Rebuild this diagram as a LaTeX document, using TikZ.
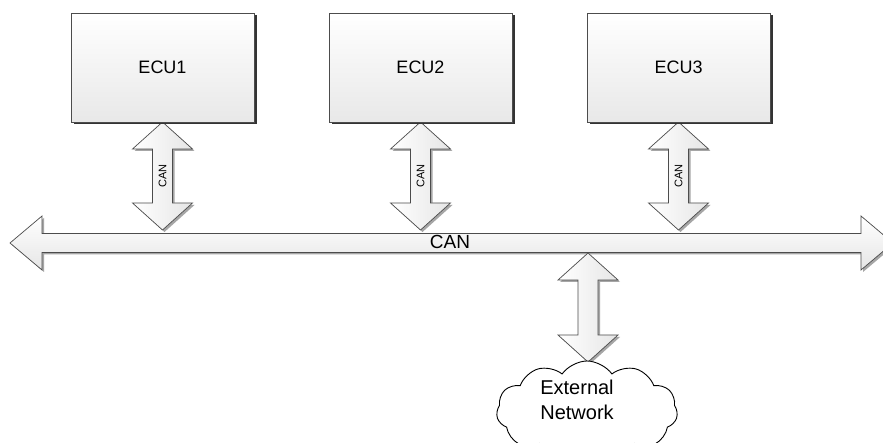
\documentclass[tikz,border=0pt]{standalone}
\usepackage{fontspec}
\setmainfont{Liberation Sans}
\usetikzlibrary{shadows,shapes.symbols}

\tikzset{
  unit/.style={draw=black!70, line width=0.8pt, top color=white, bottom color=black!9,
    minimum width=183pt, minimum height=109pt, inner sep=0pt,
    font=\fontsize{18}{20}\selectfont,
    drop shadow={shadow xshift=2.5pt, shadow yshift=-2.5pt, fill=black!80, opacity=1}},
  linkarrow/.style={draw=black!70, line width=0.7pt, left color=white, right color=black!10,
    drop shadow={shadow xshift=2pt, shadow yshift=-2pt, fill=black!35, opacity=1}},
  smalllabel/.style={rotate=90, inner sep=0pt, font=\fontsize{11}{12}\selectfont},
  buslabel/.style={inner sep=0pt, font=\fontsize{19}{21}\selectfont},
  netcloud/.style={cloud, draw=black, line width=0.9pt, fill=white, cloud puffs=11,
    cloud puff arc=110, aspect=1.9, minimum width=181pt, minimum height=100pt},
  nettext/.style={align=center, inner sep=0pt, font=\fontsize{20}{25}\selectfont}
}

% vertical double-headed arrow: centre x, top y, bottom y
\newcommand\vlink[3]{%
  \path[linkarrow] (#1,#2) -- ({#1+30},{#2+27}) -- ({#1+10},{#2+27})
    -- ({#1+10},{#3-27}) -- ({#1+30},{#3-27}) -- (#1,#3)
    -- ({#1-30},{#3-27}) -- ({#1-10},{#3-27}) -- ({#1-10},{#2+27})
    -- ({#1-30},{#2+27}) -- cycle;}

\begin{document}
\begin{tikzpicture}[x=1pt, y=-1pt]
  \clip (0,0) rectangle (883,443);
  \fill[white] (0,0) rectangle (883,443);

  % the CAN bus
  \path[linkarrow, top color=white, bottom color=black!10]
    (10,243) -- (42,216) -- (42,233.5) -- (861,233.5) -- (861,216) -- (893,243)
    -- (861,270) -- (861,252.5) -- (42,252.5) -- (42,270) -- cycle;
  \node[buslabel] (bus) at (450,242) {CAN};

  % links from the control units to the bus
  \vlink{162.5}{122}{230}
  \vlink{420.5}{122}{230}
  \vlink{678.5}{122}{230}
  \node[smalllabel] (can1) at (162.5,176) {CAN};
  \node[smalllabel] (can2) at (420.5,176) {CAN};
  \node[smalllabel] (can3) at (678.5,176) {CAN};

  % link from the bus to the outside world
  \vlink{588}{253}{362}

  % control units
  \node[unit] (ecu1) at (162.5,67.5) {ECU1};
  \node[unit] (ecu2) at (420.5,67.5) {ECU2};
  \node[unit] (ecu3) at (678.5,67.5) {ECU3};

  % external network
  \node[netcloud] (net) at (587,411) {};
  \node[nettext] (nettxt) at (577,400) {External\\Network};
\end{tikzpicture}
\end{document}
